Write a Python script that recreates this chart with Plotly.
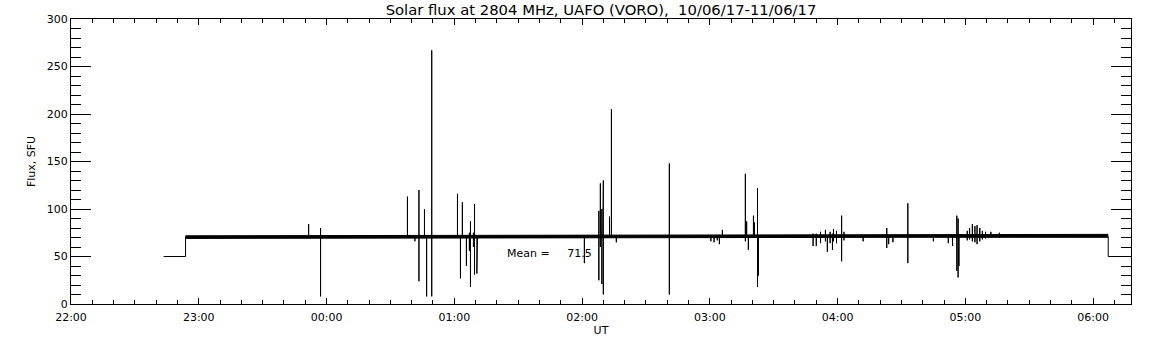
import plotly.graph_objects as go
from datetime import datetime, timedelta

# ---------------- data ----------------
title_text = "Solar flux at 2804 MHz, UAFO (VORO),\u00a0\u00a010/06/17-11/06/17"
x_title = "UT"
y_title = "Flux, SFU"
mean_value = 71.5

axis_start = "22:00:00"
axis_end = "06:17:48"

# calibration-level steps before / after observation
step_times = ["22:43:30", "22:53:48", "06:07:06", "06:18:00"]
step_level = 50.0

# envelope of the noisy quiet-sun baseline
band_times = ["22:53:48", "23:30:00", "00:30:00", "01:30:00", "02:30:00",
              "03:30:00", "04:30:00", "05:30:00", "06:07:06"]
band_low = [69.0, 69.2, 69.6, 69.9, 70.1, 70.2, 70.2, 70.2, 70.2]
band_high = [71.8, 71.9, 72.3, 72.8, 73.1, 73.3, 73.3, 73.3, 73.3]
baseline_flux = 71.0

# spikes / bursts: time, maximum, minimum
spike_times = [
    "23:51:36", "23:57:12", "00:38:00", "00:41:30", "00:43:24", "00:46:00",
    "00:47:00", "00:49:24", "01:01:30", "01:02:54", "01:03:48", "01:05:42",
    "01:07:06", "01:07:36", "01:09:00", "01:09:30", "01:10:36", "01:10:54",
    "02:01:06", "02:07:54", "02:08:36", "02:09:18", "02:09:48", "02:10:00",
    "02:12:54", "02:13:48", "02:16:06", "02:41:00",
    "03:00:30", "03:02:00", "03:03:30", "03:04:30", "03:05:54",
    "03:16:42", "03:17:18", "03:18:06", "03:20:30", "03:20:54", "03:22:24",
    "03:22:48",
    "03:48:30", "03:50:00", "03:52:00", "03:54:18", "03:55:12", "03:56:30",
    "03:57:36", "03:58:06", "03:59:30", "04:01:54", "04:03:00",
    "04:12:00", "04:23:06", "04:24:00", "04:26:00", "04:33:00", "04:45:00",
    "04:52:00", "04:54:00", "04:56:00", "04:56:36", "04:57:00",
    "05:00:54", "05:02:00", "05:03:18", "05:04:30", "05:05:30", "05:06:48",
    "05:08:00", "05:09:30", "05:12:00", "05:16:00",
]
spike_high = [
    84, 80, 113, 71, 120, 100,
    71, 267, 116, 71, 107, 71,
    75, 87, 75, 105, 71, 71,
    71, 98, 127, 100, 100, 130,
    92, 205, 71, 148,
    72, 72, 72, 72, 78,
    137, 87, 71, 93, 86, 122,
    71,
    74, 74, 76, 78, 72, 76,
    74, 79, 77, 93, 76,
    72, 80, 72, 72, 106, 72,
    72, 72, 93, 90, 71,
    77, 80, 84, 82, 83, 80,
    77, 76, 76, 75,
]
spike_low = [
    71, 8, 71, 66, 24, 71,
    8, 8, 71, 27, 71, 40,
    56, 18, 60, 31, 32, 32,
    43, 25, 60, 21, 62, 10,
    71, 71, 65, 10,
    66, 65, 67, 63, 71,
    66, 71, 57, 71, 71, 18,
    30,
    61, 61, 64, 66, 55, 64,
    57, 66, 64, 45, 67,
    66, 59, 63, 65, 43, 66,
    64, 61, 35, 28, 40,
    67, 68, 66, 65, 63, 66,
    68, 69, 70, 70,
]

# ---------------- helpers ----------------
def to_dt(hms):
    h, m, s = (int(v) for v in hms.split(":"))
    day = datetime(2017, 6, 10) if h >= 12 else datetime(2017, 6, 11)
    return day + timedelta(hours=h, minutes=m, seconds=s)

# thin trace: steps + spikes
tx, ty = [], []
tx += [to_dt(step_times[0]), to_dt(step_times[1]), to_dt(step_times[1])]
ty += [step_level, step_level, baseline_flux]
for t, hi, lo in zip(spike_times, spike_high, spike_low):
    d = to_dt(t)
    tx += [d, d, d, d]
    ty += [baseline_flux, hi, lo, baseline_flux]
tx += [to_dt(step_times[2]), to_dt(step_times[2]), to_dt(step_times[3])]
ty += [baseline_flux, step_level, step_level]

band_x = [to_dt(t) for t in band_times]

fig = go.Figure()
fig.add_trace(go.Scatter(x=band_x, y=band_low, mode="lines",
                         line=dict(color="black", width=1), showlegend=False,
                         hoverinfo="skip"))
fig.add_trace(go.Scatter(x=band_x, y=band_high, mode="lines", fill="tonexty",
                         fillcolor="black", line=dict(color="black", width=1),
                         showlegend=False, hoverinfo="skip"))
fig.add_trace(go.Scatter(x=tx, y=ty, mode="lines",
                         line=dict(color="black", width=1), showlegend=False))

font_family = "DejaVu Sans"

fig.add_annotation(x=to_dt("01:23:54"), y=53.3, xref="x", yref="y",
                   text="Mean =" + "\u00a0" * 5 + f"{mean_value:.1f}",
                   showarrow=False, xanchor="left", yanchor="middle",
                   font=dict(family=font_family, size=11, color="black"))

fig.update_layout(
    template="none",
    width=1152, height=345,
    margin=dict(l=70.7, r=21, t=19.3, b=41.4, autoexpand=False),
    paper_bgcolor="white", plot_bgcolor="white",
    font=dict(family=font_family, size=11, color="black"),
    title=dict(text=title_text, x=0.5, xref="paper", xanchor="center",
               y=1 - 9.5 / 345, yref="container", yanchor="middle",
               font=dict(family=font_family, size=14.8, color="black")),
    xaxis=dict(
        type="date", automargin=False,
        range=[to_dt(axis_start), to_dt(axis_end)],
        tick0=to_dt(axis_start), dtick=3600000, tickformat="%H:%M",
        ticks="inside", ticklen=6, tickwidth=1, tickcolor="black",
        ticklabelstandoff=3,
        minor=dict(dtick=600000, ticks="inside", ticklen=4, tickwidth=1,
                   tickcolor="black", showgrid=False),
        showline=True, linecolor="black", linewidth=1, mirror="allticks",
        showgrid=False, zeroline=False,
        title=dict(text=x_title, standoff=0, font=dict(size=11)),
    ),
    yaxis=dict(
        range=[0, 300], tick0=0, dtick=50, automargin=False,
        ticks="inside", ticklen=20, tickwidth=1, tickcolor="black",
        minor=dict(dtick=10, ticks="inside", ticklen=10, tickwidth=1,
                   tickcolor="black", showgrid=False),
        showline=True, linecolor="black", linewidth=1, mirror="allticks",
        showgrid=False, zeroline=False,
        title=dict(text=y_title, standoff=8, font=dict(size=11)),
    ),
)

fig.write_html("out.html", config={"displayModeBar": False},
               post_script="document.body.style.margin='0';")
